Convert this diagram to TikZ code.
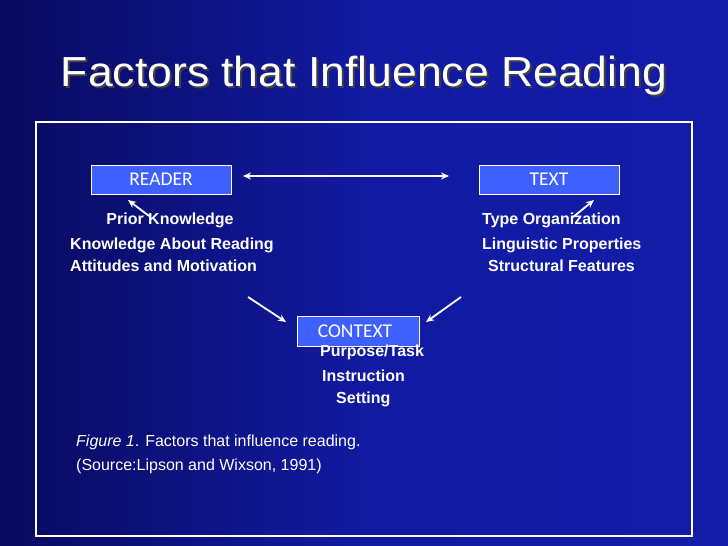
\documentclass[tikz,border=0pt]{standalone}
\usepackage{fontspec}
\setmainfont{Liberation Sans}
\newfontfamily\boxfont{Carlito}
\usetikzlibrary{arrows.meta,shadings}
\definecolor{bgdark}{RGB}{8,10,95}
\definecolor{bgmid}{RGB}{18,28,168}
\definecolor{boxblue}{RGB}{62,96,255}
\tikzset{
  factorbox/.style={draw=white, line width=1pt, fill=boxblue, minimum width=140pt, minimum height=29pt, inner sep=0pt, text=white, font=\boxfont\fontsize{19.5}{22}\selectfont},
  factortext/.style={text=white, font=\bfseries\fontsize{16}{18}\selectfont, inner sep=0pt},
  captext/.style={text=white, font=\fontsize{16}{18}\selectfont, inner sep=0pt, anchor=base west},
  titletext/.style={anchor=base, font=\fontsize{42}{46}\selectfont, inner sep=0pt, xscale=1.06},
  link/.style={draw=white, line width=1.8pt, -{Stealth[length=8pt,width=7pt]}},
}
\begin{document}
\begin{tikzpicture}[x=1pt,y=-1pt]
\useasboundingbox (0,0) rectangle (728,546);
\shade[left color=bgdark, right color=bgmid, middle color=bgmid!90!bgdark] (0,0) rectangle (728,546);
% title
\node[titletext, text=black!75] at (366,88) {Factors that Influence Reading};
\node (title) [titletext, text=white] at (364,86) {Factors that Influence Reading};
% frame
\draw[white, line width=1.6pt] (36,122) rectangle (692,536);
% boxes
\node (reader) [factorbox] at (161,179.5) {READER};
\node (text) [factorbox] at (549,179.5) {TEXT};
\node (context) [factorbox, minimum width=122pt, minimum height=30pt] at (358,331) {\hspace*{-6pt}CONTEXT};
% reader factors
\node (prior) [factortext, anchor=base] at (170,224) {Prior Knowledge};
\node (kar) [factortext, anchor=base west] at (70,249) {Knowledge About Reading};
\node (att) [factortext, anchor=base west] at (70,271) {Attitudes and Motivation};
% text factors
\node (type) [factortext, anchor=base west] at (482,224) {Type Organization};
\node (ling) [factortext, anchor=base west] at (482,249) {Linguistic Properties};
\node (struct) [factortext, anchor=base west] at (488,271) {Structural Features};
% context factors
\node (purpose) [factortext, anchor=base west] at (320,356) {Purpose/Task};
\node (instr) [factortext, anchor=base west] at (322,381) {Instruction};
\node (setting) [factortext, anchor=base west] at (336,403) {Setting};
% caption
\node (cap1) [captext] at (76,446) {\textit{Figure 1}. Factors that influence reading.};
\node (cap2) [captext] at (76,470) {(Source:Lipson and Wixson, 1991)};
% connectors
\coordinate (rt) at (243,176);
\coordinate (tt) at (449,176);
\draw[link, {Stealth[length=8pt,width=7pt]}-{Stealth[length=8pt,width=7pt]}] (rt) -- (tt);
\coordinate (pa) at (149,216);
\coordinate (pb) at (128,200);
\draw[link] (pa) -- (pb);
\coordinate (ta) at (572,218);
\coordinate (tb) at (594,200);
\draw[link] (ta) -- (tb);
\coordinate (la) at (248,297);
\coordinate (lb) at (286,322);
\draw[link] (la) -- (lb);
\coordinate (ra) at (461,297);
\coordinate (rb) at (426,322);
\draw[link] (ra) -- (rb);
\end{tikzpicture}
\end{document}
